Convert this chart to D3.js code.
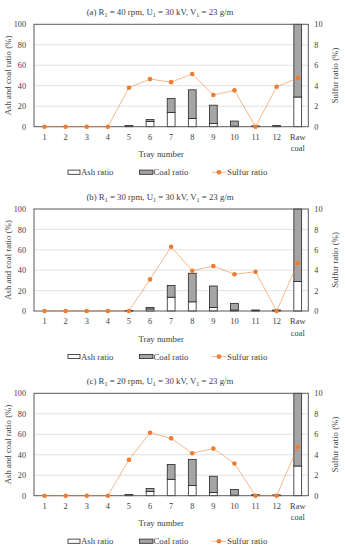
<!DOCTYPE html>
<html>
<head>
<meta charset="utf-8">
<script src="https://cdn.jsdelivr.net/npm/d3@7"></script>
<style>
  body { margin: 0; background: #fff; }
  svg text { font-family: "Liberation Serif", "DejaVu Serif", serif; fill: #404040; }
</style>
</head>
<body>
<div id="chart"></div>
<script>

var trays = ["1", "2", "3", "4", "5", "6", "7", "8", "9", "10", "11", "12", "Raw coal"];
var leftTicks = [0, 20, 40, 60, 80, 100];
var rightTicks = [0, 2, 4, 6, 8, 10];

// panel (a) R1 = 40 rpm
var ashA    = [0, 0, 0, 0, 0.3, 5, 14, 8, 3, 0.5, 0.3, 0.3, 29];
var coalA   = [0, 0, 0, 0, 0.9, 2, 13.5, 28, 18, 5, 0.5, 0.9, 71];
var sulfurA = [0, 0, 0, 0, 3.8, 4.65, 4.35, 5.15, 3.1, 3.55, 0, 3.9, 4.75];

// panel (b) R1 = 30 rpm
var ashB    = [0, 0, 0, 0, 0.2, 2, 13.5, 9, 3.5, 1, 0.3, 0.3, 29];
var coalB   = [0, 0, 0, 0, 0.3, 1.5, 11.5, 28, 21, 6.5, 0.7, 0.7, 71];
var sulfurB = [0, 0, 0, 0, 0, 3.1, 6.3, 3.95, 4.4, 3.6, 3.85, 0, 4.7];

// panel (c) R1 = 20 rpm
var ashC    = [0, 0, 0, 0, 0.3, 4, 16, 10, 3, 0.5, 0.3, 0.3, 29];
var coalC   = [0, 0, 0, 0, 0.9, 3, 14.5, 25.5, 16, 5.5, 0.7, 0.5, 71];
var sulfurC = [0, 0, 0, 0, 3.5, 6.15, 5.6, 4.15, 4.6, 3.15, 0, 0, 4.75];

var W = 345, H = 550;
var svg = d3.select("#chart").append("svg")
    .attr("width", W)
    .attr("height", H);

var ORANGE = "#ED7D31";

function title(g, rpm) {
    var t = g.append("text")
        .attr("x", 160).attr("y", 0)
        .attr("text-anchor", "middle")
        .attr("font-size", 8.8);
    var parts = [["(" + rpm[0] + ") R", ""], ["1", "s"], [" = " + rpm[1] + " rpm, U", ""], ["1", "s"],
                 [" = 30 kV, V", ""], ["1", "s"], [" = 23 g/m", ""]];
    parts.forEach(function(p) {
        var s = t.append("tspan").text(p[0]);
        if (p[1] == "s") s.attr("font-size", 6).attr("dy", 2);
        else s.attr("dy", t.selectAll("tspan").size() > 1 ? -2 : 0);
    });
}

function drawPanel(top, bottom, label, ash, coal, sulfur) {
    var left = 34, right = 308.3;

    var x = d3.scaleBand().domain(trays).range([left, right]).padding(0);
    var y = d3.scaleLinear().domain([0, 100]).range([bottom, top]);
    var y2 = d3.scaleLinear().domain([0, 10]).range([bottom, top]);

    var g = svg.append("g");

    // gridlines
    g.selectAll("line.grid")
        .data(leftTicks.slice(1, -1))
        .enter().append("line")
        .attr("x1", left).attr("x2", right)
        .attr("y1", function(d) { return y(d); })
        .attr("y2", function(d) { return y(d); })
        .attr("stroke", "#d9d9d9").attr("stroke-width", 0.8);

    var data = trays.map(function(t, i) { return {tray: t, ash: ash[i], coal: coal[i], s: sulfur[i]}; });
    var bw = x.bandwidth() * 0.37;

    // ash (bottom)
    g.selectAll("rect.ash").data(data).enter().append("rect")
        .attr("x", function(d) { return x(d.tray) + (x.bandwidth() - bw) / 2; })
        .attr("width", bw)
        .attr("y", function(d) { return y(d.ash); })
        .attr("height", function(d) { return y(0) - y(d.ash); })
        .attr("fill", "#fff").attr("stroke", "#262626").attr("stroke-width", 0.8);

    // coal stacked on ash
    g.selectAll("rect.coal").data(data).enter().append("rect")
        .attr("x", function(d) { return x(d.tray) + (x.bandwidth() - bw) / 2; })
        .attr("width", bw)
        .attr("y", function(d) { return y(d.ash + d.coal); })
        .attr("height", function(d) { return y(d.ash) - y(d.ash + d.coal); })
        .attr("fill", "#a5a5a5").attr("stroke", "#262626").attr("stroke-width", 0.8);

    // frame
    g.append("rect")
        .attr("x", left).attr("y", top)
        .attr("width", right - left).attr("height", bottom - top)
        .attr("fill", "none").attr("stroke", "#595959").attr("stroke-width", 1);

    // sulfur line
    var line = d3.line()
        .x(function(d) { return x(d.tray) + x.bandwidth() / 2; })
        .y(function(d) { return y2(d.s); });
    g.append("path").datum(data)
        .attr("d", line)
        .attr("fill", "none")
        .attr("stroke", ORANGE).attr("stroke-opacity", 0.7).attr("stroke-width", 0.8);
    g.selectAll("circle.s").data(data).enter().append("circle")
        .attr("cx", function(d) { return x(d.tray) + x.bandwidth() / 2; })
        .attr("cy", function(d) { return y2(d.s); })
        .attr("r", 2.3)
        .attr("fill", ORANGE);

    // left axis
    var la = g.append("g").attr("transform", "translate(" + left + ",0)")
        .call(d3.axisLeft(y).tickValues(leftTicks).tickSize(0).tickPadding(8));
    la.select(".domain").remove();
    la.selectAll("text").attr("font-size", 8.2).attr("fill", "#404040")
        .attr("font-family", "Liberation Serif");

    var ra = g.append("g").attr("transform", "translate(" + right + ",0)")
        .call(d3.axisRight(y2).tickValues(rightTicks).tickSize(0).tickPadding(6));
    ra.select(".domain").remove();
    ra.selectAll("text").attr("font-size", 8.2).attr("fill", "#404040")
        .attr("font-family", "Liberation Serif");

    // x axis
    var xa = g.append("g").attr("transform", "translate(0," + bottom + ")")
        .call(d3.axisBottom(x).tickSize(0).tickPadding(7).tickFormat(""));
    xa.select(".domain").remove();
    xa.selectAll(".tick").append("text")
        .attr("y", 13).attr("text-anchor", "middle")
        .attr("font-size", 8.4).attr("fill", "#404040")
        .attr("font-family", "Liberation Serif")
        .each(function(d) {
            var words = d.split(" ");
            var el = d3.select(this);
            words.forEach(function(w, i) {
                el.append("tspan").attr("x", 0).attr("dy", i == 0 ? 0 : 11.5).text(w);
            });
        });

    g.append("text")
        .attr("x", (left + right) / 2 - 10).attr("y", bottom + 30.5)
        .attr("text-anchor", "middle").attr("font-size", 8.8)
        .text("Tray number");

    g.append("text")
        .attr("transform", "translate(10.5," + (top + bottom) / 2 + ") rotate(-90)")
        .attr("text-anchor", "middle").attr("font-size", 8.8)
        .text("Ash and coal ratio (%)");
    g.append("text")
        .attr("transform", "translate(338," + (top + bottom) / 2 + ") rotate(-90)")
        .attr("text-anchor", "middle").attr("font-size", 8.8)
        .text("Sulfur ratio (%)");

    var tg = g.append("g").attr("transform", "translate(0," + (top - 9.5) + ")");
    title(tg, label);

    // legend
    var ly = bottom + 45.6;
    var lg = g.append("g");
    lg.append("rect").attr("x", 68).attr("y", ly - 2.2).attr("width", 12).attr("height", 4.2)
        .attr("fill", "#fff").attr("stroke", "#262626").attr("stroke-width", 0.8);
    lg.append("text").attr("x", 81).attr("y", ly + 3).attr("font-size", 8.8).text("Ash ratio");
    lg.append("rect").attr("x", 139.5).attr("y", ly - 2.2).attr("width", 13.5).attr("height", 4.2)
        .attr("fill", "#a5a5a5").attr("stroke", "#262626").attr("stroke-width", 0.8);
    lg.append("text").attr("x", 153.5).attr("y", ly + 3).attr("font-size", 8.8).text("Coal ratio");
    lg.append("line").attr("x1", 212).attr("x2", 226).attr("y1", ly).attr("y2", ly)
        .attr("stroke", ORANGE).attr("stroke-opacity", 0.7).attr("stroke-width", 0.8);
    lg.append("circle").attr("cx", 219).attr("cy", ly).attr("r", 2.3).attr("fill", ORANGE);
    lg.append("text").attr("x", 227).attr("y", ly + 3).attr("font-size", 8.8).text("Sulfur ratio");
}

drawPanel(24.3, 126.7, ["a", 40], ashA, coalA, sulfurA);
drawPanel(209, 311, ["b", 30], ashB, coalB, sulfurB);
drawPanel(393.3, 495.7, ["c", 20], ashC, coalC, sulfurC);

</script>
</body>
</html>
